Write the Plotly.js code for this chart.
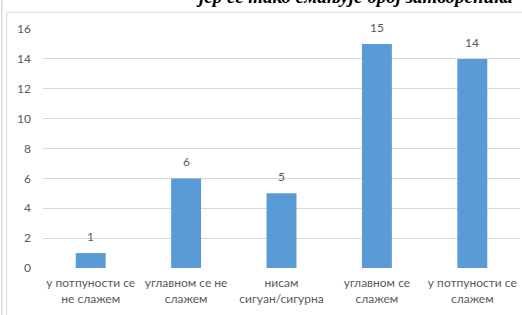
<!DOCTYPE html>
<html><head><meta charset="utf-8">
<script src="https://cdn.plot.ly/plotly-3.0.1.min.js"></script>
<style>html,body{margin:0;padding:0;background:#fff}#c{width:522px;height:315px}</style>
</head><body><div id="c"></div>
<script>
const categories = ["у потпуности се<br>не слажем", "углавном се не<br>слажем", "нисам<br>сигуан/сигурна", "углавном се<br>слажем", "у потпуности се<br>слажем"];
const values = [1, 6, 5, 15, 14];
const yTicks = [0, 2, 4, 6, 8, 10, 12, 14, 16];
const titleText = "јер се тако смањује број затвореника";

const txtFont = {family: "Lato, 'Open Sans', sans-serif", size: 12, color: "#595959"};
const data = [{
  type: "bar", x: categories, y: values,
  marker: {color: "#5B9BD5"},
  hoverinfo: "none"
}];
const valueLabels = categories.map((c, i) => ({
  x: c, y: values[i], xref: "x", yref: "y", text: String(values[i]),
  showarrow: false, yanchor: "bottom", yshift: 7, font: txtFont
}));
const layout = {
  width: 522, height: 315,
  margin: {l: 43, r: 2, t: 29, b: 47},
  paper_bgcolor: "#fff", plot_bgcolor: "#fff",
  bargap: 0.686,
  showlegend: false,
  xaxis: {type: "category", tickfont: txtFont, showgrid: false, zeroline: false, showline: false, ticks: "", ticklabelstandoff: 6, automargin: false},
  yaxis: {range: [0, 16], tickvals: yTicks, ticktext: yTicks.map(String), tickfont: txtFont,
          showgrid: true, gridcolor: "#D9D9D9", gridwidth: 1, zeroline: false, showline: false,
          ticks: "", ticklabelstandoff: 11, automargin: false},
  shapes: [
    {type: "line", xref: "paper", yref: "paper", x0: -0.0759, x1: -0.0759, y0: 1.07, y1: -0.2, line: {color: "#D9D9D9", width: 1}},
    {type: "line", xref: "paper", yref: "paper", x0: -0.0759, x1: 1.01, y0: 1.07, y1: 1.07, line: {color: "#D9D9D9", width: 1}},
    {type: "line", xref: "paper", yref: "paper", x0: -0.0864, x1: -0.0864, y0: 1.2, y1: -0.2, line: {color: "#D9D9D9", width: 1.5}}
  ],
  annotations: valueLabels.concat([{
    text: titleText, xref: "paper", yref: "paper", x: 0.652, y: 1.085, xanchor: "center", yanchor: "bottom",
    showarrow: false, font: {family: "'Liberation Serif', serif", size: 19, color: "#000", weight: 700, style: "italic"}
  }])
};
Plotly.newPlot("c", data, layout, {staticPlot: true, displayModeBar: false});
</script></body></html>
